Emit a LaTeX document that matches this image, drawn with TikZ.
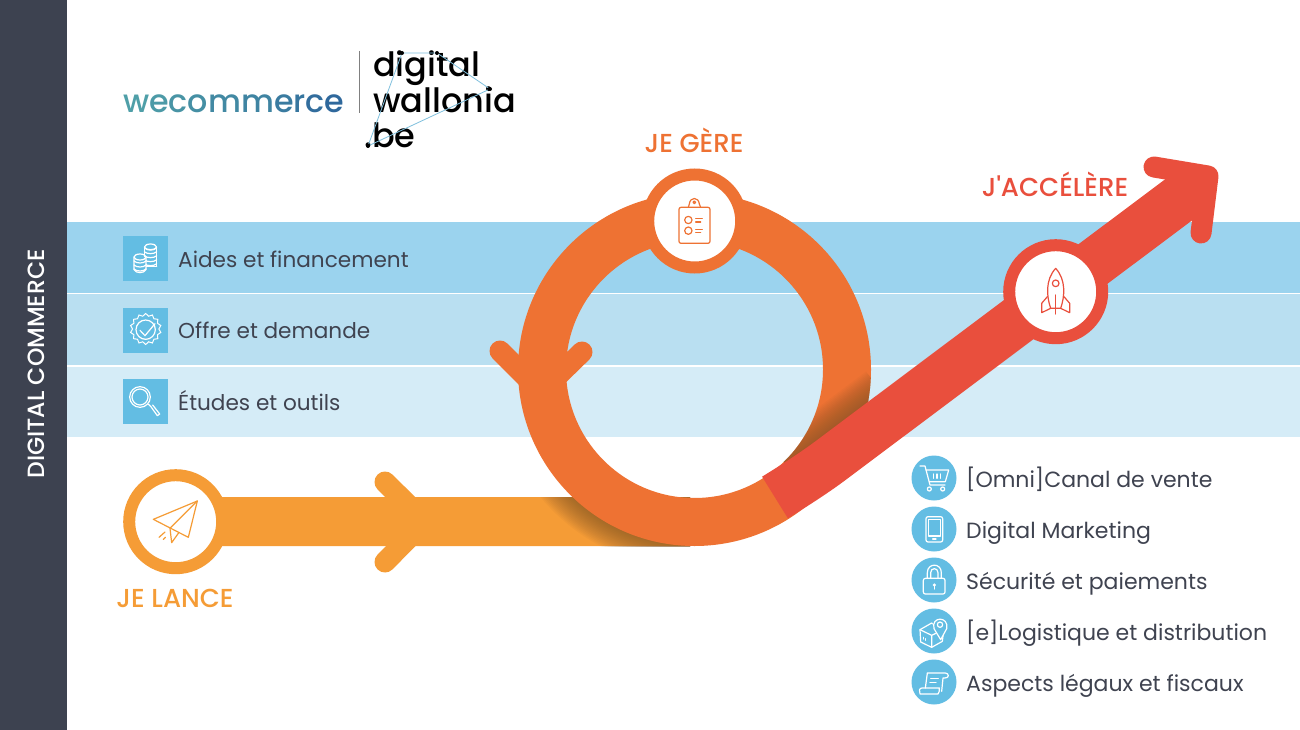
\documentclass[tikz,border=0pt]{standalone}
\usepackage{fontspec}
\setmainfont{Poppins}
\newfontfamily\mediumfont{Poppins Medium}
\usetikzlibrary{shapes.geometric}
\definecolor{sidebar}{HTML}{3D4250}
\definecolor{label}{HTML}{3F4350}
\definecolor{bandA}{HTML}{9BD3EE}
\definecolor{bandB}{HTML}{B9DFF1}
\definecolor{bandC}{HTML}{D5ECF7}
\definecolor{iconblue}{HTML}{63BDE3}
\definecolor{lance}{HTML}{F59C36}
\definecolor{gere}{HTML}{EE7233}
\definecolor{accel}{HTML}{E94F3D}
\definecolor{shadow}{HTML}{7A5228}
\definecolor{logoA}{HTML}{4F9FA8}
\definecolor{logoB}{HTML}{2F689C}
\definecolor{logoline}{HTML}{7FC0DD}
\tikzset{
  waypoint/.style={circle, fill=white, line width=12pt, minimum size=93pt, inner sep=0pt, outer sep=0pt},
  stage/.style={anchor=base, inner sep=0pt, font=\mediumfont\fontsize{26}{26}\selectfont},
  item/.style={anchor=base west, inner sep=0pt, text=label, font=\fontsize{21.6}{22}\selectfont},
  service/.style={item, font=\fontsize{22}{22}\selectfont},
  square/.style={fill=iconblue, minimum size=45pt, inner sep=0pt, outer sep=0pt},
  disc/.style={circle, fill=iconblue, minimum size=45pt, inner sep=0pt, outer sep=0pt},
  logotext/.style={anchor=base west, inner sep=0pt, font=\mediumfont\fontsize{33.5}{34}\selectfont},
  logodot/.style={circle, fill=black, minimum size=4pt, inner sep=0pt},
  icon/.style={draw=white, line width=1.2pt, line join=round, line cap=round},
  glyph/.style={line width=1.2pt, line join=round, line cap=round},
  chevron/.style={line width=21pt, line cap=round, line join=miter}
}
\begin{document}
\begin{tikzpicture}[x=1pt, y=-1pt]
\useasboundingbox (0,0) rectangle (1300,730);
\fill[white] (0,0) rectangle (1300,730);
\fill[bandA] (66,222) rectangle (1300,293);
\fill[bandB] (66,294) rectangle (1300,365);
\fill[bandC] (66,366.5) rectangle (1300,437);
\fill[sidebar] (0,0) rectangle (66.5,730);
\node[rotate=90, text=white, font=\mediumfont\fontsize{23.5}{24}\selectfont, inner sep=0pt] (sideTitle) at (36,364) {DIGITAL COMMERCE};

% logo
\node[anchor=base west, inner sep=0pt, font=\mediumfont\fontsize{31.7}{32}\selectfont] (wecommerce) at (123,113) {\textcolor{logoA}{w}\textcolor{logoB!10!logoA}{e}\textcolor{logoB!20!logoA}{c}\textcolor{logoB!30!logoA}{o}\textcolor{logoB!40!logoA}{m}\textcolor{logoB!50!logoA}{m}\textcolor{logoB!65!logoA}{e}\textcolor{logoB!75!logoA}{r}\textcolor{logoB!90!logoA}{c}\textcolor{logoB}{e}};
\draw[gray, line width=1pt] (359,51) -- (359,113);
\node[logotext] (digital) at (373,76.5) {digital};
\node[logotext] (wallonia) at (373,113) {wallonia};
\node[logotext] (be) at (364,148) {.be};
\node[logodot] (dotA) at (368,146) {};
\node[logodot] (dotB) at (402,53) {};
\node[logodot] (dotC) at (437,53) {};
\node[logodot] (dotD) at (490,89) {};
\draw[logoline, line width=.8pt] (dotA) -- (dotB) -- (dotC) -- (dotD) -- (dotA);

% themes
\node[square] (coins) at (145.5,258.5) {};
\node[square] (badge) at (145.5,330) {};
\node[square] (search) at (145.5,401.5) {};
\node[item] (aides) at (178,267) {Aides et financement};
\node[item] (offre) at (178,338.5) {Offre et demande};
\node[item] (etudes) at (178,410) {Études et outils};

\begin{scope}[shift={(110,225)}, scale=1/3]
\foreach \y in {68,80,92,104,116} \draw[icon] (103,\y) .. controls (110,\y+8) and (133,\y+8) .. (140,\y);
\draw[icon] (103,66) -- (103,105) (140,66) -- (140,124);
\draw[icon] (108,124) -- (140,124);
\draw[icon] (121.5,66) ellipse (18 and 9);
\fill[iconblue] (72,96) rectangle (108,142);
\foreach \y in {108,120,132} \draw[icon] (72,\y) .. controls (79,\y+8) and (101,\y+8) .. (108,\y);
\draw[icon] (72,96) -- (72,134) .. controls (79,146) and (101,146) .. (108,134) -- (108,96);
\draw[icon] (90,96) ellipse (18 and 9);
\draw[icon] (107,314) circle (29);
\draw[icon] (90,316) -- (105,332) -- (135,296);
\draw[icon] (90,516) circle (31);
\draw[icon] (90,516) circle (24);
\draw[icon] (116,538) -- (122,544) -- (142,572) -- (149,567) -- (128,540);
\end{scope}
\node[star, star points=14, star point ratio=1.18, draw=white, line width=1pt, minimum size=31pt, inner sep=0pt] (burst) at (145.7,329) {};

% services
\node[disc] (cart) at (934,478) {};
\node[disc] (phone) at (934,529) {};
\node[disc] (lock) at (934,580) {};
\node[disc] (parcel) at (934,631) {};
\node[disc] (scroll) at (934,682) {};
\node[service] (canal) at (966,487.5) {[Omni]Canal de vente};
\node[service] (marketing) at (966,538.5) {Digital Marketing};
\node[service] (securite) at (966,589.5) {Sécurité et paiements};
\node[service] (logistique) at (966,640.5) {[e]Logistique et distribution};
\node[service] (aspects) at (966,691.5) {Aspects légaux et fiscaux};

\begin{scope}[shift={(900,450)}, scale=1/3]
\draw[icon] (60,48) -- (75,48) -- (90,105) -- (135,105);
\draw[icon] (78,60) -- (146,60) -- (136,95) -- (88,95);
\draw[icon] (88,117) circle (6) (128,117) circle (6);
\draw[icon] (100,72) -- (100,85) (111,72) -- (111,85) (122,72) -- (122,85);
\draw[icon, rounded corners=2pt] (78,200) rectangle (128,276);
\draw[icon] (85,208) rectangle (121,258);
\draw[icon] (98,267) -- (108,267);
\draw[icon, rounded corners=2pt] (70,385) rectangle (135,432);
\draw[icon] (82,385) -- (82,368) .. controls (82,338) and (124,338) .. (124,368) -- (124,385);
\draw[icon] (92,385) -- (92,368) .. controls (92,352) and (114,352) .. (114,368) -- (114,385);
\fill[white] (103,405) circle (5);
\draw[icon] (103,405) -- (103,417);
\end{scope}
\begin{scope}[shift={(910,608)}, scale=1/3]
\draw[icon] (30,65) -- (65,45) -- (100,75) -- (97,100) -- (65,118) -- (32,102) -- cycle;
\draw[icon] (30,65) -- (65,82) -- (100,65) (65,82) -- (65,118);
\draw[icon] (40,88) -- (40,93) (47,92) -- (47,97);
\fill[iconblue] (92,95) -- (68,62) .. controls (60,20) and (120,20) .. (112,62) -- cycle;
\draw[icon] (92,95) -- (72,62) .. controls (62,24) and (118,24) .. (110,62) -- cycle;
\draw[icon] (90,50) circle (8);
\draw[icon] (46,240) -- (52,195) -- (106,195) .. controls (118,196) and (118,210) .. (105,210) -- (99,210) -- (95,250);
\draw[icon] (30,258) .. controls (27,250) and (27,240) .. (36,240) -- (88,240) .. controls (88,248) and (88,254) .. (84,258) -- cycle;
\draw[icon] (62,212) -- (85,212) (60,224) -- (78,224);
\end{scope}

% the path
\node[waypoint, draw=lance] (launch) at (175.7,521.7) {};
\coordinate (turn) at (690,521.5);
\draw[lance, line width=49pt] (launch) -- (turn);
\begin{scope}
\clip (540,497) rectangle (690,546);
\foreach \r in {200,198.5,...,177} \fill[shadow, opacity=.055] (694.5,369.5) circle (\r);
\end{scope}
\draw[lance, chevron] (385,482) -- (425,521.5) -- (385,562);

\node[circle, draw=gere, line width=48pt, minimum size=305pt, inner sep=0pt, outer sep=0pt] (ring) at (694.5,369.5) {};
\draw[gere, chevron] (500,351) -- (541,392) -- (582,352);
\begin{scope}[even odd rule]
\clip (694.5,369.5) circle (176.5) (694.5,369.5) circle (128.5);
\begin{scope}[shift={(800,483.6)}, rotate=36.85]
\foreach \d in {2,3.5,...,26} \fill[shadow, opacity=.05] (0,-24) rectangle (120,-24-\d);
\end{scope}
\end{scope}

\coordinate (redStart) at (775,497.5);
\coordinate (redBend) at (830,461);
\coordinate (redNeck) at (1198,185.3);
\coordinate (redApex) at (1208,176);
\draw[accel, line width=49pt] (redStart) .. controls (792,487) and (814,473) .. (redBend) -- (redNeck);
\draw[accel, chevron, line join=round] (1154,167) -- (redApex) -- (1201,233);
\node[waypoint, draw=accel] (rocket) at (1055.7,291.7) {};
\node[waypoint, draw=gere] (manage) at (694.7,221) {};

\begin{scope}[lance, shift={(110,460)}, scale=1/3, glyph]
\draw (130,178) -- (262,123) -- (235,232) -- cycle;
\draw (262,123) -- (180,205) -- (185,248) -- (205,220);
\draw (147,232) -- (165,216) (160,238) -- (166,232);
\end{scope}
\begin{scope}[gere, shift={(630,160)}, scale=1/3, glyph]
\draw[rounded corners=2pt] (147,142) rectangle (240,250);
\draw (175,142) -- (178,132) .. controls (180,110) and (206,110) .. (208,132) -- (212,142);
\draw (193,127) circle (4);
\draw (175,180) circle (11) (175,212) circle (11);
\draw (197,176) -- (217,176) (197,186) -- (212,186) (197,208) -- (217,208) (197,218) -- (212,218);
\end{scope}
\begin{scope}[accel, shift={(990,140)}, scale=1/3, glyph]
\draw (197,385) .. controls (165,420) and (170,470) .. (182,505) -- (212,505) .. controls (224,470) and (229,420) .. (197,385);
\draw (172,470) -- (155,490) -- (155,518) -- (182,505);
\draw (222,470) -- (239,490) -- (239,518) -- (212,505);
\draw (197,430) circle (10);
\draw (197,465) -- (197,522);
\end{scope}

\node[stage, text=lance] (lanceLabel) at (175,607) {JE LANCE};
\node[stage, text=gere] (gereLabel) at (694,152.5) {JE GÈRE};
\node[stage, text=accel] (accelLabel) at (1055,196.5) {J'ACCÉLÈRE};
\end{tikzpicture}
\end{document}
